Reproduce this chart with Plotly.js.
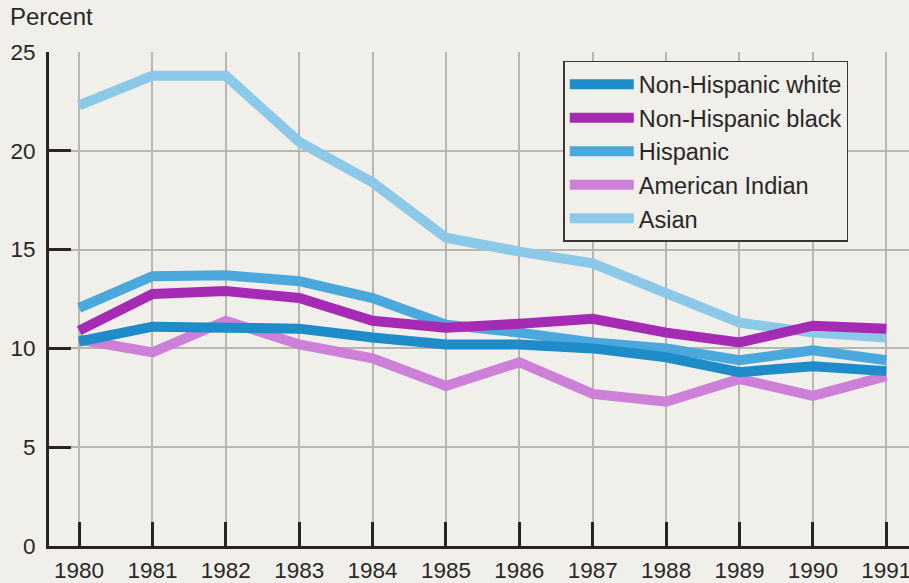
<!DOCTYPE html>
<html>
<head>
<meta charset="utf-8">
<script src="https://cdn.plot.ly/plotly-3.0.1.min.js"></script>
<style>
html,body{margin:0;padding:0;background:#f0efea;}
#chart{width:909px;height:583px;}
</style>
</head>
<body>
<div id="chart"></div>
<script>
const years = [1980,1981,1982,1983,1984,1985,1986,1987,1988,1989,1990,1991];
const seriesNames = ["Non-Hispanic white","Non-Hispanic black","Hispanic","American Indian","Asian"];
const nhWhite = [10.35,11.1,11.05,11.0,10.55,10.2,10.2,10.0,9.55,8.8,9.1,8.85];
const nhBlack = [10.9,12.75,12.9,12.55,11.4,11.05,11.25,11.5,10.8,10.3,11.15,11.0];
const hispanic = [12.05,13.65,13.7,13.4,12.55,11.2,10.8,10.3,10.0,9.4,9.9,9.4];
const amIndian = [10.45,9.8,11.4,10.2,9.5,8.1,9.3,7.7,7.3,8.45,7.6,8.6];
const asian = [22.3,23.8,23.8,20.45,18.4,15.6,14.9,14.3,12.8,11.3,10.8,10.55];
const yTicks = [0,5,10,15,20,25];

const colors = ["#1d8cc9","#a52ab4","#4aa8dc","#cc80d8","#8cc8e8"];
const values = [nhWhite, nhBlack, hispanic, amIndian, asian];
const drawOrder = [4,3,2,1,0];

const traces = drawOrder.map(i => ({
  type: "scatter",
  mode: "lines",
  x: years,
  y: values[i],
  name: seriesNames[i],
  legendrank: i + 1,
  line: {color: colors[i], width: 10},
  hoverinfo: "x+y+name"
}));

const fontFam = "Liberation Sans, Arial, Helvetica, sans-serif";
const layout = {
  width: 909,
  height: 583,
  paper_bgcolor: "#f0efea",
  plot_bgcolor: "#f0efea",
  margin: {l: 49, r: 0, t: 52, b: 37, pad: 0},
  font: {family: fontFam, size: 22, color: "#2a2726"},
  showlegend: true,
  legend: {
    x: 0.598, y: 0.982, xanchor: "left", yanchor: "top",
    bgcolor: "#f0efea",
    bordercolor: "#3a3636",
    borderwidth: 1.5,
    font: {family: fontFam, size: 23.5, color: "#2a2726"},
    itemwidth: 64,
    traceorder: "normal"
  },
  xaxis: {
    range: [1979.59, 1991.31],
    tickmode: "array",
    tickvals: years,
    ticktext: years.map(String),
    ticks: "inside",
    ticklen: 24,
    tickwidth: 3,
    tickcolor: "#2a2522",
    showline: true,
    linecolor: "#2a2522",
    linewidth: 3,
    showgrid: true,
    gridcolor: "#b9b5af",
    gridwidth: 2,
    zeroline: false,
    ticklabelstandoff: 2,
    ticklabeloverflow: "allow",
    tickfont: {family: fontFam, size: 22.5, color: "#2a2726"},
    fixedrange: true
  },
  yaxis: {
    range: [0, 25],
    tickmode: "array",
    tickvals: yTicks,
    ticktext: yTicks.map(String),
    ticks: "inside",
    ticklen: 22,
    tickwidth: 3,
    tickcolor: "#2a2522",
    showline: true,
    linecolor: "#2a2522",
    linewidth: 3,
    showgrid: true,
    gridcolor: "#b9b5af",
    gridwidth: 2,
    zeroline: false,
    ticklabelstandoff: 6,
    ticklabeloverflow: "allow",
    tickfont: {family: fontFam, size: 22.5, color: "#2a2726"},
    fixedrange: true
  },
  annotations: [{
    text: "Percent",
    xref: "paper", yref: "paper",
    x: -0.048, y: 1.071,
    xanchor: "left", yanchor: "middle",
    showarrow: false,
    font: {family: fontFam, size: 24, color: "#2a2726"}
  }]
};

Plotly.newPlot("chart", traces, layout, {displayModeBar: false, staticPlot: true});
</script>
</body>
</html>
